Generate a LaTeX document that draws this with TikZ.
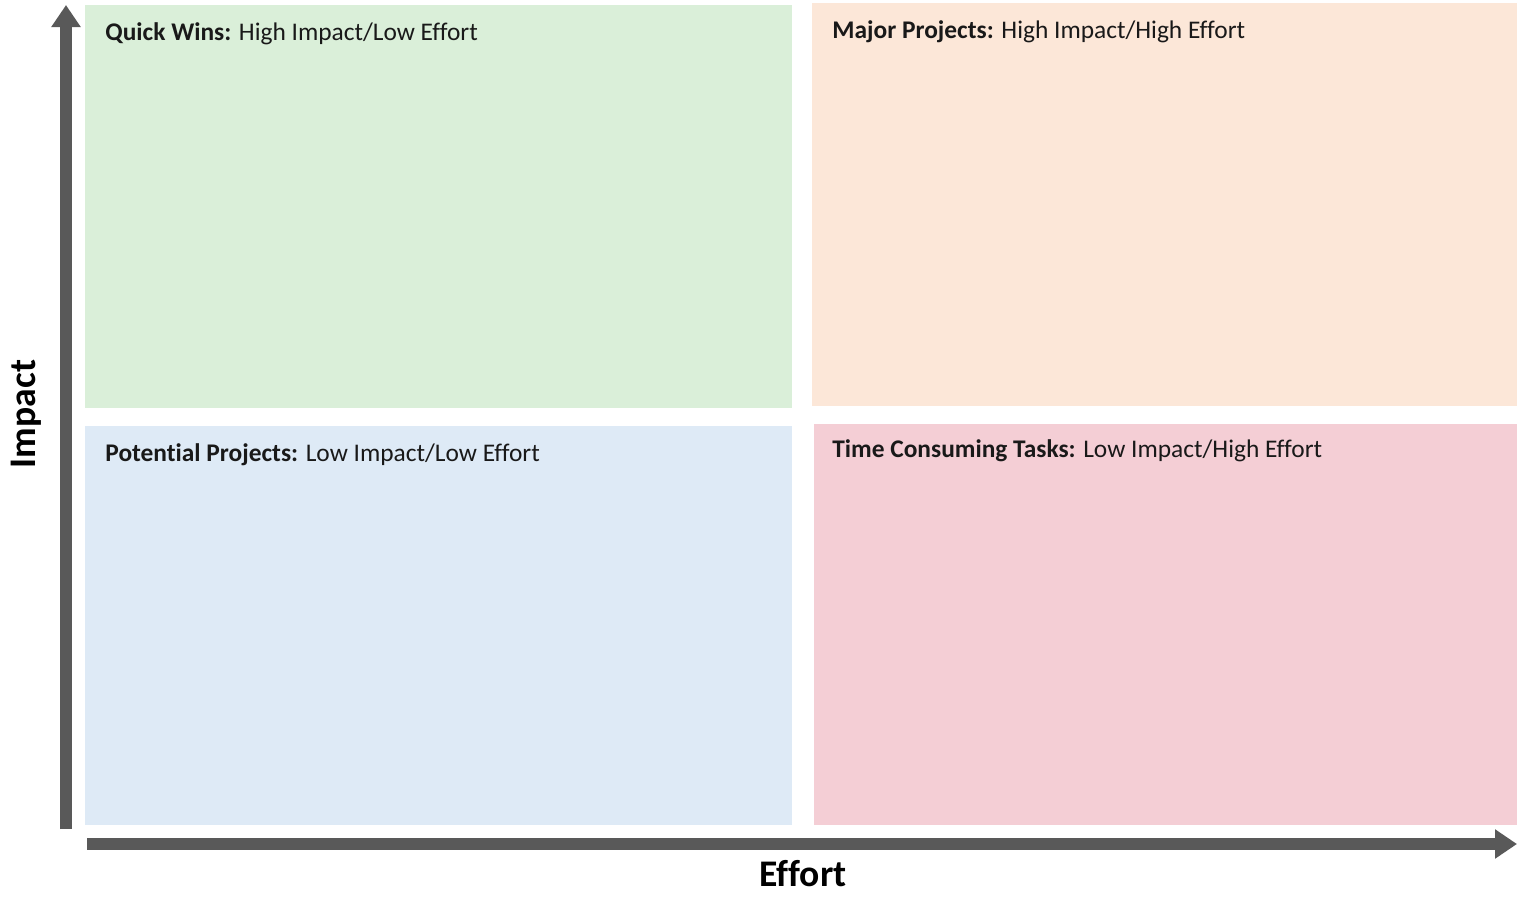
\documentclass[tikz,border=0pt]{standalone}
\usepackage{fontspec}
\setmainfont{Carlito}[Ligatures=NoCommon]
\usetikzlibrary{arrows.meta,calc}
\definecolor{qgreen}{HTML}{DAEFD9}
\definecolor{qpeach}{HTML}{FCE7D8}
\definecolor{qblue}{HTML}{DEEAF6}
\definecolor{qpink}{HTML}{F4CED5}
\definecolor{axisgray}{HTML}{595959}
\tikzset{
  quad/.style={rectangle, draw=none, inner sep=0pt, anchor=north west},
  qlabel/.style={anchor=west, inner sep=0pt, font=\fontsize{12.7pt}{14pt}\selectfont, text=black!90},
  axislabel/.style={inner sep=0pt, font=\fontsize{18.8pt}{21pt}\selectfont\bfseries},
  axis/.style={draw=axisgray, line width=6pt, -{Triangle[length=11pt,width=14pt]}}
}
\begin{document}
\begin{tikzpicture}[x=0.5pt,y=-0.5pt]
\useasboundingbox (0,0) rectangle (1517,896);
% four quadrants
\node[quad, fill=qgreen, minimum width=353.5pt, minimum height=201.5pt] (qw) at (85,5) {};
\node[quad, fill=qpeach, minimum width=352.5pt, minimum height=201.5pt] (mp) at (812,3) {};
\node[quad, fill=qblue,  minimum width=353.5pt, minimum height=199.5pt] (pp) at (85,426) {};
\node[quad, fill=qpink,  minimum width=351.5pt, minimum height=200.5pt] (tc) at (814,424) {};
% quadrant headings
\node[qlabel] (qwl) at ($(qw.north west)+(20,29)$) {\textbf{Quick Wins:} High Impact/Low Effort};
\node[qlabel] (mpl) at ($(mp.north west)+(20,29)$) {\textbf{Major Projects:} High Impact/High Effort};
\node[qlabel] (ppl) at ($(pp.north west)+(20,29)$) {\textbf{Potential Projects:} Low Impact/Low Effort};
\node[qlabel] (tcl) at ($(tc.north west)+(18,27)$) {\textbf{Time Consuming Tasks:} Low Impact/High Effort};
% axes
\coordinate (ybot) at (66,829);
\coordinate (ytop) at (66,5);
\coordinate (xleft) at (87,844);
\coordinate (xright) at (1517,844);
\draw[axis] (ybot) -- (ytop);
\draw[axis] (xleft) -- (xright);
\node[axislabel] (effort) at (803,874) {Effort};
\node[axislabel, rotate=90] (impact) at (26,414) {Impact};
\end{tikzpicture}
\end{document}
